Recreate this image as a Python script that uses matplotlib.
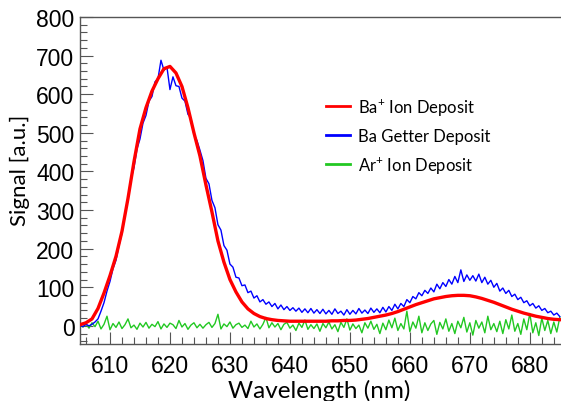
"""
Emission spectra of the three deposits - recreated chart
"""

import numpy as np
import matplotlib
matplotlib.use('Agg')
import matplotlib.pyplot as plt
from matplotlib.ticker import MultipleLocator

# ============================================================================
# DATA
# ============================================================================

# Ba+ ion deposit, smooth curve, 1 nm steps from 605 to 685 nm
WAVE_RED = np.arange(605, 686, 1)
BA_ION = [3, 8, 18, 45, 85, 130, 180, 245, 330, 425,
          510, 565, 608, 640, 666, 672, 655, 620, 565, 500,
          440, 365, 295, 220, 165, 120, 88, 62, 44, 32,
          24, 19, 16, 14, 13, 12, 12, 12, 12, 12,
          12, 12, 13, 13, 14, 14, 15, 17, 19, 22,
          25, 28, 32, 37, 43, 49, 55, 60, 65, 70,
          73, 76, 78, 79, 79, 78, 75, 71, 66, 61,
          55, 49, 43, 38, 33, 29, 25, 22, 19, 17, 16]

# noisy spectra, 0.5 nm steps from 605 to 685 nm
WAVE_FINE = np.arange(605, 685.25, 0.5)
BA_GETTER = [2, -2, 4, 0, 4, 10, 18, 38, 60, 90, 115, 148, 170, 208, 240, 290, 326, 380, 410, 458, 484,
             525, 545, 582, 594, 632, 640, 688, 662, 670, 612, 645, 622, 620, 590, 582, 548, 538, 495, 480, 455,
             428, 382, 368, 325, 306, 262, 248, 208, 196, 160, 152, 126, 124, 104, 106, 86, 90, 72, 78, 62,
             68, 56, 62, 50, 58, 44, 54, 42, 50, 40, 47, 38, 46, 35, 44, 34, 45, 33, 42, 32,
             43, 31, 40, 30, 44, 32, 38, 28, 42, 30, 40, 31, 45, 33, 41, 32, 46, 35, 44, 34,
             48, 36, 50, 40, 56, 44, 58, 50, 68, 60, 76, 70, 86, 78, 92, 84, 98, 88, 108, 96,
             112, 102, 120, 108, 128, 112, 145, 115, 132, 118, 130, 116, 134, 112, 126, 108, 118, 100, 110, 90,
             98, 84, 92, 76, 82, 68, 74, 60, 65, 52, 58, 46, 52, 40, 45, 34, 38, 28, 33, 24]
AR_ION = [2, -3, 5, -6, 8, -2, 12, -8, 4, 25, -10, 6, -4, 10, -7, 3, 18, -5, 2, -9, 7,
          -3, 9, -6, 4, -2, 11, -8, 5, -4, 7, 3, -7, 14, -3, 6, -9, 2, 8, -5, 4,
          -6, 3, 9, -4, 6, 30, -8, 5, -2, 10, -6, 3, 7, -4, 2, -7, 12, -3, 5, -8,
          4, 22, -5, 8, -3, 6, -10, 4, 9, -6, 2, -12, 7, -4, 15, -9, 3, -7, 5, -14,
          6, -5, 10, -8, 3, -15, 9, -4, 18, -11, 5, -7, 2, -18, 8, -6, 12, -9, 4, -20,
          7, -10, 15, -5, 20, -12, 6, -8, 38, -15, 10, -6, 25, -18, 8, -12, 5, 14, -22, 9,
          -8, 18, -14, 6, -20, 12, -5, 22, -16, 8, -24, 14, -6, 10, -18, 25, -10, 6, -15, 12,
          -20, 16, -8, 28, -14, 6, -22, 18, -10, 32, -18, 8, -25, 20, -12, 14, -20, 10, -16, 22]

LABELS = ['Ba$^{+}$ Ion Deposit', 'Ba Getter Deposit', 'Ar$^{+}$ Ion Deposit']
COLORS = ['#ff0000', '#0000ff', '#22c822']

# ============================================================================
# PLOT
# ============================================================================

plt.rcParams['mathtext.default'] = 'regular'
TICK_FONT = 'Liberation Sans'
LABEL_FONT = 'Lato'

W, H = 561, 402
fig = plt.figure(figsize=(W / 100, H / 100), dpi=100)
ax = fig.add_axes([80 / W, 1 - 345 / H, (W - 80) / W, (345 - 18) / H])

ax.plot(WAVE_FINE, AR_ION, color=COLORS[2], lw=1.0, zorder=2)
ax.plot(WAVE_FINE, BA_GETTER, color=COLORS[1], lw=1.0, zorder=3)
ax.plot(WAVE_RED, BA_ION, color=COLORS[0], lw=2.4, zorder=4)

# legend handles in the order of the reference
handles = [plt.Line2D([], [], color=c, lw=2) for c in COLORS]
leg = ax.legend(handles, LABELS, loc='upper left', frameon=False,
                bbox_to_anchor=(318 / W, 1 - 89 / H), bbox_transform=fig.transFigure,
                borderpad=0, handlelength=1.4, handletextpad=0.5, labelspacing=0.62,
                prop={'family': LABEL_FONT, 'size': 12})

ax.set_xlim(605, 685.2)
ax.set_ylim(-47, 800)
ax.xaxis.set_major_locator(MultipleLocator(10))
ax.xaxis.set_minor_locator(MultipleLocator(2))
ax.yaxis.set_major_locator(MultipleLocator(100))
ax.yaxis.set_minor_locator(MultipleLocator(20))
ax.tick_params(which='both', direction='in', color='#555555', width=0.8)
ax.tick_params(which='major', length=9)
ax.tick_params(which='minor', length=5)
ax.tick_params(axis='y', pad=4)
ax.tick_params(axis='x', pad=7)
for lab in ax.get_xticklabels() + ax.get_yticklabels():
    lab.set_fontfamily(TICK_FONT)
    lab.set_fontsize(16.5)

for side in ['left', 'bottom', 'top']:
    ax.spines[side].set_color('#555555')
    ax.spines[side].set_linewidth(1.0)
ax.spines['right'].set_visible(False)

fig.text(319 / W, 1 - 391 / H, 'Wavelength (nm)', ha='center', va='center',
         family=LABEL_FONT, fontsize=17.5)
fig.text(20 / W, 1 - 170 / H, 'Signal [a.u.]', ha='center', va='center',
         rotation=90, family=LABEL_FONT, fontsize=16)

fig.savefig('out.png', dpi=100)
